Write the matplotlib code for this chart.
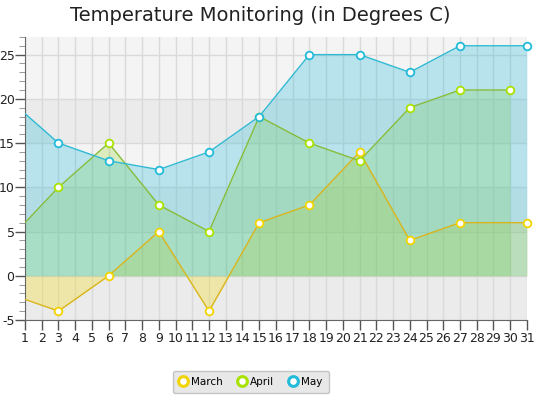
import matplotlib.pyplot as plt
from matplotlib.lines import Line2D
from matplotlib.ticker import FuncFormatter

# day-of-month positions and temperatures per series
days_march = [0, 3, 6, 9, 12, 15, 18, 21, 24, 27, 31]
temps_march = [-2, -4, 0, 5, -4, 6, 8, 14, 4, 6, 6]

days_april = [0, 3, 6, 9, 12, 15, 18, 21, 24, 27, 30]
temps_april = [4, 10, 15, 8, 5, 18, 15, 13, 19, 21, 21]

days_may = [0, 3, 6, 9, 12, 15, 18, 21, 24, 27, 31]
temps_may = [20, 15, 13, 12, 14, 18, 25, 25, 23, 26, 26]

x_ticks = list(range(1, 32))
y_ticks = [-5, 0, 5, 10, 15, 20, 25]

series = [
    ("March", days_march, temps_march, "#d9b51c", "#f2d400", "#f9d900"),
    ("April", days_april, temps_april, "#86bd3a", "#a9e200", "#9fd834"),
    ("May", days_may, temps_may, "#2fbad4", "#22bad9", "#22bad9"),
]

fig = plt.figure(figsize=(5.36, 3.97), dpi=100)
ax = fig.add_axes([0.0466, 0.194, 0.9364, 0.713])

ax.set_xlim(1, 31)
ax.set_ylim(-5, 27)
ax.set_facecolor("#f4f4f4")

# alternating row bands
for lo in (-5, 5, 15):
    ax.axhspan(lo, lo + 5, color="#ebebeb", zorder=0, lw=0)

for x in x_ticks:
    ax.axvline(x, color="#dadada", lw=1, zorder=0.5)
for y in y_ticks:
    ax.axhline(y, color="#dadada", lw=1, zorder=0.5)

for name, xs, ys, line_c, marker_c, fill_c in series:
    ax.fill_between(xs, ys, 0, color=fill_c, alpha=0.28, lw=0, zorder=1)
    ax.plot(xs, ys, color=line_c, lw=1.0, zorder=3)
    # markers only for points inside the visible day range
    mx = [x for x in xs if x >= 1]
    my = [y for x, y in zip(xs, ys) if x >= 1]
    ax.plot(mx, my, ls="none", marker="o", ms=5.5, mfc="white",
            mec=marker_c, mew=1.3, zorder=4, clip_on=False)

ax.set_xticks(x_ticks)
ax.set_yticks(y_ticks)
ax.set_yticks(range(-5, 28), minor=True)
ax.yaxis.set_major_formatter(FuncFormatter(lambda v, pos: str(int(v))))
ax.tick_params(axis="both", labelsize=9, colors="#555555", labelcolor="#222222",
               length=7, width=1)
ax.tick_params(axis="y", which="minor", length=4, colors="#888888")
ax.tick_params(axis="x", pad=2)
ax.tick_params(axis="y", pad=0.5)

for side in ("top", "right"):
    ax.spines[side].set_visible(False)
for side in ("left", "bottom"):
    ax.spines[side].set_color("#666666")

fig.text(0.485, 0.962, "Temperature Monitoring (in Degrees C)",
         ha="center", va="center", fontsize=14, color="#222222")

handles = [
    Line2D([], [], ls="none", marker="o", ms=7, mfc="white", mec=s[4], mew=2.2)
    for s in series
]
leg = fig.legend(handles, [s[0] for s in series], loc="center",
                 bbox_to_anchor=(0.468, 0.038), ncol=3, fontsize=7.5,
                 frameon=True, fancybox=True, handlelength=0.8,
                 handletextpad=0.4, columnspacing=1.4, borderpad=0.6)
leg.get_frame().set_facecolor("#e8e8e8")
leg.get_frame().set_edgecolor("#c4c4c4")
leg.get_frame().set_alpha(1)

fig.savefig("out.png", dpi=100)
